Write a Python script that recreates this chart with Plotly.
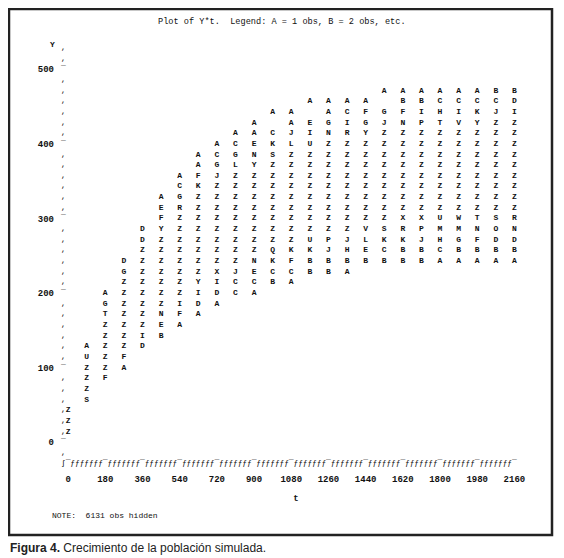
import plotly.graph_objects as go

# ---------------------------------------------------------------
# Datos: diagrama de caracteres (PROC PLOT) de Y contra t
# cada columna = un valor de t, fila superior y letras de arriba abajo
# (A = 1 obs, B = 2 obs, ... ; " " = celda vacia)
# ---------------------------------------------------------------
t_values = [0, 90, 180, 270, 360, 450, 540, 630, 720, 810, 900, 990, 1080,
            1170, 1260, 1350, 1440, 1530, 1620, 1710, 1800, 1890, 1980, 2070, 2160]
top_rows = [3, 9, 14, 17, 20, 23, 25, 27, 28, 29, 30, 31, 31,
            32, 32, 32, 32, 33, 33, 33, 33, 33, 33, 33, 33]
letters = [
    "ZZZ",
    "AUZZZS",
    "AGTZZZZZF",
    "DG" + "Z" * 7 + "FA",
    "DD" + "Z" * 8 + "ID",
    "AEFY" + "Z" * 7 + "NEB",
    "ACGR" + "Z" * 8 + "IFA",
    "AAFK" + "Z" * 8 + "YIDA",
    "ACGJ" + "Z" * 8 + "XIDA",
    "ACGL" + "Z" * 9 + "JCC",
    "AAENY" + "Z" * 8 + "NECA",
    "A CKS" + "Z" * 8 + "QKCB",
    "AAJL" + "Z" * 9 + "KFCA",
    "A EIU" + "Z" * 8 + "UKBB",
    "AAGN" + "Z" * 9 + "PJBB",
    "ACIR" + "Z" * 9 + "JHBA",
    "AFGY" + "Z" * 8 + "VLEB",
    "A GJ" + "Z" * 9 + "SKCB",
    "ABFN" + "Z" * 8 + "XRKBB",
    "ABIP" + "Z" * 8 + "XPJBB",
    "ACHT" + "Z" * 8 + "UMHCA",
    "ACIV" + "Z" * 8 + "WMGBA",
    "ACKY" + "Z" * 8 + "TNFBA",
    "BCJZ" + "Z" * 8 + "SODBA",
    "BDIZ" + "Z" * 8 + "RNDBA",
]
x_ticks = list(range(0, 2161, 180))
y_ticks = [0, 100, 200, 300, 400, 500]
hidden_obs = 6131

ROW = 100 / 7      # una linea de impresora en el eje vertical
CELL = 22.5        # una columna de impresora en el eje horizontal

xs, ys, txt = [], [], []
for t, top, col in zip(t_values, top_rows, letters):
    for i, ch in enumerate(col):
        if ch != " ":
            xs.append(t)
            ys.append((top - i) * ROW)
            txt.append(ch)

MONO = "Liberation Mono, Courier New, monospace"
INK = "#111"

fig = go.Figure()
fig.add_trace(go.Scatter(x=xs, y=ys, mode="text", text=txt,
                         textfont=dict(family=MONO, size=8, color=INK, weight="bold"),
                         hoverinfo="skip", showlegend=False))

# eje vertical dibujado con caracteres ("," y "¯" en las marcas)
ax_rows = list(range(-1, 38))
fig.add_trace(go.Scatter(
    x=[-CELL] * len(ax_rows), y=[r * ROW for r in ax_rows], mode="text",
    text=["¯" if (r % 7 == 0 and r >= 0) else "," for r in ax_rows],
    textfont=dict(family=MONO, size=8, color=INK),
    hoverinfo="skip", showlegend=False))

# eje horizontal: "ƒƒƒƒƒƒƒ¯" repetido
ax_cols = list(range(-1, 97))
fig.add_trace(go.Scatter(
    x=[k * CELL for k in ax_cols], y=[-2 * ROW] * len(ax_cols), mode="text",
    text=["ʃ" if k < 0 else ("¯" if k % 8 == 0 else "ƒ") for k in ax_cols],
    textfont=dict(family=MONO, size=8, color=INK),
    hoverinfo="skip", showlegend=False))

# la pagina tiene 8 px de margen en el body: la figura empieza en (8, 8)
OFF = 8
W, H = 548, 550
L, R, T, B = 51, 23, 22, 86
PW, PH = W - L - R, H - T - B


def px(x):
    return (x - OFF - L) / PW


def py(y):
    return (H - B - (y - OFF)) / PH


fig.update_layout(
    width=W, height=H,
    margin=dict(l=L, r=R, t=T, b=B),
    paper_bgcolor="white", plot_bgcolor="white",
    xaxis=dict(range=[-44, 2250], tickvals=x_ticks, ticktext=[str(v) for v in x_ticks],
               showgrid=False, zeroline=False, showline=False, ticks="", automargin=False,
               tickfont=dict(family=MONO, size=9, color=INK, weight="bold"),
               title=dict(text="t", font=dict(family=MONO, size=9, color=INK, weight="bold"),
                          standoff=10)),
    yaxis=dict(range=[-40, 552.7], tickvals=y_ticks, ticktext=[str(v) for v in y_ticks],
               showgrid=False, zeroline=False, showline=False, ticks="", automargin=False,
               ticklabelstandoff=4,
               tickfont=dict(family=MONO, size=9, color=INK, weight="bold")),
)

# textos del listado
fig.add_annotation(x=px(282), y=py(22), xref="paper", yref="paper", showarrow=False,
                   xanchor="center", yanchor="middle",
                   text="Plot of Y*t.  Legend: A = 1 obs, B = 2 obs, etc.",
                   font=dict(family=MONO, size=8.6, color=INK))
fig.add_annotation(x=px(52), y=py(44), xref="paper", yref="paper", showarrow=False,
                   xanchor="center", yanchor="middle",
                   text="Y", font=dict(family=MONO, size=8, color=INK, weight="bold"))
fig.add_annotation(x=px(50), y=py(515), xref="paper", yref="paper", showarrow=False,
                   xanchor="left", yanchor="middle", text=f"NOTE:  {hidden_obs} obs hidden",
                   font=dict(family=MONO, size=8, color=INK))

# leyenda de la figura
fig.add_annotation(x=px(8), y=py(548), xref="paper", yref="paper", showarrow=False,
                   xanchor="left", yanchor="middle",
                   text="<b>Figura 4.</b> Crecimiento de la población simulada.",
                   font=dict(family="Liberation Sans, Arial, sans-serif", size=12, color="#222"))

# marco
fig.add_shape(type="rect", xref="paper", yref="paper",
              x0=px(9), x1=px(552), y0=py(535), y1=py(9),
              line=dict(color="#222", width=2.5))

fig.write_html("out.html")
